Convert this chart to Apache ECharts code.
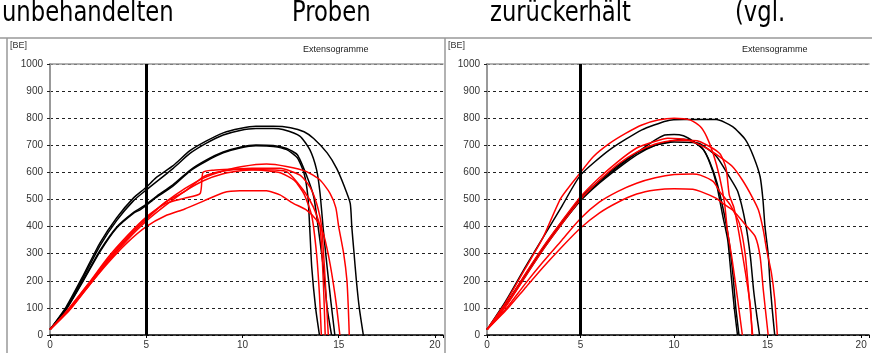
<!DOCTYPE html>
<html>
<head>
<meta charset="utf-8">
<script src="https://cdn.jsdelivr.net/npm/echarts@6/dist/echarts.min.js"></script>
<style>
  html, body { margin: 0; padding: 0; background: #fff; }
  #chart { width: 872px; height: 353px; }
</style>
</head>
<body>
<div id="chart"></div>
<script>
// header words of the scanned page
const headWords = ['unbehandelten', 'Proben', 'zurückerhält', '(vgl.'];
const yTicks = [0, 100, 200, 300, 400, 500, 600, 700, 800, 900, 1000];
const xTicks = [0, 5, 10, 15, 20];
const markX = 5;

// left extensogram - black curves  [dehnung, BE]
const leftBlack1 = [[0,20],[0.85,105],[1.73,220],[2.6,340],[3.46,432],[4.33,505],[5,545],[5.5,580],[6.4,625],[7.27,680],[8.13,716],[9,746],[9.87,762],[10.7,770],[11.6,770],[12.5,765],[13.2,750],[13.7,725],[14.4,672],[14.9,614],[15.3,547],[15.6,486],[15.68,400],[15.8,300],[15.92,200],[16.07,100],[16.28,0]];
const leftBlack2 = [[0,20],[0.85,100],[1.73,212],[2.6,330],[3.46,422],[4.33,495],[5,535],[6.4,615],[7.27,670],[8.13,708],[9,738],[9.87,755],[10.7,762],[11.6,762],[12.1,758],[12.98,734],[13.5,684],[13.85,610],[14.03,524],[14.2,389],[14.4,250],[14.6,120],[14.8,0]];
const leftBlack3 = [[0,20],[0.85,95],[1.73,200],[2.6,308],[3.46,395],[4.33,449],[4.68,462],[5,478],[5.5,507],[6.4,550],[7.27,605],[8.13,642],[9,672],[9.87,690],[10.7,698],[11.6,696],[12.3,684],[12.85,654],[13.2,597],[13.4,511],[13.5,389],[13.6,250],[13.8,100],[14,0]];
const leftBlack4 = [[0,20],[0.85,97],[1.73,203],[2.6,312],[3.46,398],[4.33,452],[5,482],[5.5,510],[6.4,555],[7.27,608],[8.13,646],[9,675],[9.87,693],[10.7,701],[11.6,699],[12.3,688],[12.85,665],[13.35,585],[13.7,511],[13.95,389],[14.2,250],[14.4,100],[14.63,0]];
// left extensogram - red curves
const leftRed1 = [[0,20],[0.5,55],[1,95],[2,185],[3,275],[4,355],[5,430],[6,490],[7,540],[8,580],[9,605],[10,622],[11.25,631],[12.29,622],[13.33,603],[14.03,572],[14.55,523],[14.85,470],[15,400],[15.26,300],[15.43,200],[15.5,100],[15.55,0]];
const leftRed2 = [[0,20],[0.5,58],[1,100],[2,190],[3,285],[4,365],[5,435],[6,485],[7,505],[7.8,522],[7.95,600],[8.5,608],[9.5,612],[10.5,615],[11.95,615],[12.99,590],[13.5,547],[13.85,486],[14.11,400],[14.3,200],[14.46,0]];
const leftRed3 = [[0,20],[1,92],[2,180],[3,270],[4,350],[5,420],[6,478],[7,530],[8,570],[9,595],[10,607],[11,610],[12.29,603],[13.16,535],[13.68,473],[14.03,400],[14.2,200],[14.3,0]];
const leftRed4 = [[0,20],[1,97],[2,188],[3,280],[4,360],[5,427],[6,490],[7,530],[8,585],[9,605],[10,612],[11,608],[12,598],[12.7,570],[13.2,520],[13.6,440],[13.85,300],[14,150],[14.1,0]];
const leftRed5 = [[0,20],[1,90],[2,180],[3,265],[4,340],[5,400],[6,440],[7,465],[8,495],[9,525],[9.87,532],[11.25,532],[11.95,517],[12.64,486],[13.33,461],[13.85,424],[14.2,375],[14.45,300],[14.7,200],[14.9,100],[15.06,0]];

// right extensogram - black curves
const rightBlack1 = [[0,20],[1,125],[2,245],[3,360],[4,475],[5,590],[6.55,683],[8.28,757],[9.6,790],[10.5,795],[12.26,795],[13.13,769],[13.82,720],[14.25,658],[14.6,584],[14.75,500],[14.86,400],[15.03,300],[15.12,200],[15.24,100],[15.38,0]];
const rightBlack2 = [[0,20],[0.5,60],[1,110],[2,215],[3,320],[4,415],[5,500],[6,565],[7,620],[8,672],[9,720],[9.5,738],[10,740],[10.5,735],[11.06,713],[11.58,683],[11.92,633],[12.26,560],[12.61,437],[12.87,350],[13.04,228],[13.21,105],[13.39,0]];
const rightBlack3 = [[0,20],[1,108],[2,212],[3,316],[4,410],[5,495],[6,560],[7,615],[8,665],[9,700],[10,718],[10.5,722],[11,715],[11.5,690],[11.9,640],[12.3,560],[12.7,440],[12.95,340],[13.15,220],[13.3,100],[13.47,0]];
const rightBlack4 = [[0,20],[1,112],[2,218],[3,322],[4,418],[5,505],[6,570],[7,625],[8,672],[9,700],[10,712],[11,710],[11.4,705],[12.26,660],[12.9,590],[13.4,530],[13.82,412],[14.08,289],[14.25,166],[14.43,68],[14.57,0]];
// right extensogram - red curves
const rightRed1 = [[0,20],[1,120],[2,240],[3,360],[3.95,505],[5,600],[5.68,658],[6.55,707],[7.41,744],[8.28,775],[9.14,793],[10,800],[10.88,793],[11.4,769],[11.74,732],[12.09,670],[12.43,584],[12.7,486],[12.85,387],[13.1,280],[13.4,130],[13.65,0]];
const rightRed2 = [[0,20],[1,110],[2,220],[3,325],[4,420],[5,510],[6,580],[7,640],[8,690],[9,715],[9.66,726],[10.7,720],[11.74,689],[12.43,658],[13.13,621],[13.65,572],[14.17,510],[14.51,461],[14.77,387],[14.95,314],[15.2,230],[15.38,133],[15.52,0]];
const rightRed3 = [[0,20],[1,105],[2,210],[3,315],[4,410],[5,500],[6,570],[7,630],[8,675],[9,705],[10,718],[11,718],[11.4,713],[12.44,670],[12.78,615],[12.95,517],[13.2,470],[13.47,375],[13.82,228],[14.08,105],[14.17,0]];
const rightRed4 = [[0,20],[1,95],[2,185],[3,270],[4,350],[5,430],[6,490],[7,530],[8,560],[9,580],[10,592],[11,594],[11.4,590],[12.1,566],[12.44,529],[13,480],[13.5,410],[13.8,300],[14,150],[14.2,0]];
const rightRed5 = [[0,20],[1,90],[2,170],[3,250],[4,325],[5,395],[6,450],[7,490],[8,520],[9,535],[10,540],[11,538],[11.4,530],[12.26,504],[12.6,486],[13.13,461],[13.9,400],[14.34,363],[14.6,289],[14.77,166],[15.03,0]];

const leftCurves = [[leftBlack1,'#000'],[leftBlack2,'#000'],[leftBlack3,'#000'],[leftBlack4,'#000'],
  [leftRed1,'#ff0000'],[leftRed2,'#ff0000'],[leftRed3,'#ff0000'],[leftRed4,'#ff0000'],[leftRed5,'#ff0000']];
const rightCurves = [[rightBlack1,'#000'],[rightBlack2,'#000'],[rightBlack3,'#000'],[rightBlack4,'#000'],
  [rightRed1,'#ff0000'],[rightRed2,'#ff0000'],[rightRed3,'#ff0000'],[rightRed4,'#ff0000'],[rightRed5,'#ff0000']];

const font = 'Liberation Sans, Arial, sans-serif';
const xMax = 20.42;

function bottomX(gi) {
  return {
    type: 'value', gridIndex: gi, min: 0, max: xMax, interval: 5,
    axisLine: { lineStyle: { color: '#000', width: 1.5 } },
    axisTick: { show: true, length: 3, lineStyle: { color: '#000' } },
    axisLabel: { color: '#333', fontSize: 10, fontFamily: font, margin: 5,
      formatter: v => (xTicks.indexOf(v) >= 0 ? String(v) : '') },
    splitLine: { show: false }
  };
}
function topX(gi) {
  return {
    type: 'value', gridIndex: gi, position: 'top', min: 0, max: xMax,
    axisLine: { lineStyle: { color: '#999', width: 1.5 } },
    axisTick: { show: false }, axisLabel: { show: false }, splitLine: { show: false }
  };
}
function yAx(gi) {
  return {
    type: 'value', gridIndex: gi, min: yTicks[0], max: yTicks[yTicks.length - 1], interval: 100,
    axisLine: { show: true, lineStyle: { color: '#999', width: 2 } },
    axisTick: { show: true, length: 6, lineStyle: { color: '#222', type: [3, 3] } },
    axisLabel: { color: '#333', fontSize: 10, fontFamily: font, margin: 7,
      formatter: v => String(v) },
    splitLine: { show: true, lineStyle: { color: '#222', width: 1, type: [3, 3] } }
  };
}

function buildSeries(curves, gi) {
  return curves.map((c, i) => {
    const s = {
      type: 'line', xAxisIndex: gi * 2, yAxisIndex: gi, data: c[0],
      showSymbol: false, smooth: 0.2, silent: true,
      lineStyle: { color: c[1], width: 1.5 }, z: c[1] === '#000' ? 3 : 4
    };
    if (i === 0) {
      s.markLine = {
        silent: true, symbol: ['none', 'none'], label: { show: false },
        lineStyle: { color: '#000', width: 3, type: 'solid' },
        data: [{ xAxis: markX }]
      };
    }
    return s;
  });
}

const headX = [2, 292, 490, 735];
const graphic = headWords.map((w, i) => ({
  type: 'text', left: headX[i], top: 0, scaleX: 0.9,
  style: { text: w, fill: '#000', font: '28px "DejaVu Sans Condensed", "DejaVu Sans", sans-serif' }
}));
[
  { type: 'line', shape: { x1: 0, y1: 38, x2: 872, y2: 38 } },
  { type: 'line', shape: { x1: 7, y1: 38, x2: 7, y2: 353 } },
  { type: 'line', shape: { x1: 445, y1: 38, x2: 445, y2: 353 } }
].forEach(l => { l.style = { stroke: '#999', lineWidth: 1.5 }; graphic.push(l); });
graphic.push(
  { type: 'text', left: 10, top: 41, style: { text: '[BE]', fill: '#333', font: '9px ' + font } },
  { type: 'text', left: 303, top: 45, style: { text: 'Extensogramme', fill: '#222', font: '9px ' + font } },
  { type: 'text', left: 448, top: 41, style: { text: '[BE]', fill: '#333', font: '9px ' + font } },
  { type: 'text', left: 742, top: 45, style: { text: 'Extensogramme', fill: '#222', font: '9px ' + font } }
);

const chart = echarts.init(document.getElementById('chart'));
chart.setOption({
  animation: false,
  backgroundColor: '#fff',
  grid: [
    { left: 50, top: 64, width: 393, height: 271 },
    { left: 487, top: 64, width: 393, height: 271 }
  ],
  xAxis: [bottomX(0), topX(0), bottomX(1), topX(1)],
  yAxis: [yAx(0), yAx(1)],
  series: buildSeries(leftCurves, 0).concat(buildSeries(rightCurves, 1)),
  graphic: graphic
});
</script>
</body>
</html>
